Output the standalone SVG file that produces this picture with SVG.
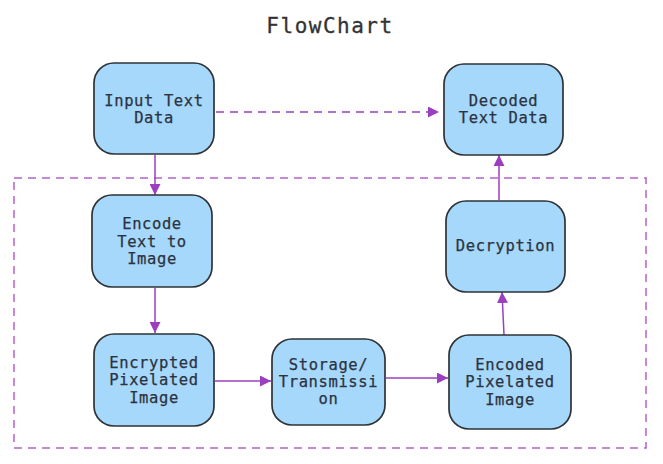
<svg xmlns="http://www.w3.org/2000/svg" width="663" height="464" viewBox="0 0 663 464">
<defs>
<marker id="ah" viewBox="0 0 10 10" refX="10" refY="5" markerWidth="11" markerHeight="11" markerUnits="userSpaceOnUse" orient="auto">
<path d="M0,0 L10,5 L0,10 Z" fill="#9b3fbf"/>
</marker>
<style>
.node rect{fill:#a6d8fb;stroke:#2f3337;stroke-width:1.7}
.node text{font-family:"DejaVu Sans Mono","Liberation Mono",monospace;font-size:15.5px;letter-spacing:0.6px;fill:#2b3340;stroke:#2b3340;stroke-width:0.25;text-anchor:middle}
.edge{stroke:#9b3fbf;stroke-width:1.5;fill:none}
.dash{stroke-dasharray:8,6}
.title{font-family:"DejaVu Sans Mono","Liberation Mono",monospace;font-size:21px;letter-spacing:1.5px;fill:#333;stroke:#333;stroke-width:0.3;text-anchor:middle}
</style>
</defs>
<rect width="663" height="464" fill="#ffffff"/>
<text class="title" x="330" y="33">FlowChart</text>
<rect x="14" y="178" width="632" height="270" fill="none" stroke="#b561c8" stroke-width="1.5" stroke-dasharray="8,6"/>
<g id="connectors">
<path class="edge dash" d="M216,112 L439,112" marker-end="url(#ah)"/>
<path class="edge" d="M155,155 L155,195" marker-end="url(#ah)"/>
<path class="edge" d="M155,288 L155,333" marker-end="url(#ah)"/>
<path class="edge" d="M215,381 L271,381" marker-end="url(#ah)"/>
<path class="edge" d="M386,378 L448,378" marker-end="url(#ah)"/>
<path class="edge" d="M504,335 L502,292" marker-end="url(#ah)"/>
<path class="edge" d="M499,200 L499,155" marker-end="url(#ah)"/>
</g>
<g id="input" class="node">
<rect x="94" y="63" width="120" height="91" rx="20"/>
<text x="154" y="106">Input Text</text>
<text x="154" y="123">Data</text>
</g>
<g id="decoded" class="node">
<rect x="444" y="64" width="119" height="91" rx="20"/>
<text x="503.5" y="106">Decoded</text>
<text x="503.5" y="123">Text Data</text>
</g>
<g id="encode" class="node">
<rect x="92" y="195" width="120" height="92" rx="20"/>
<text x="152" y="229">Encode</text>
<text x="152" y="247">Text to</text>
<text x="152" y="264">Image</text>
</g>
<g id="decryption" class="node">
<rect x="446" y="201" width="119" height="91" rx="20"/>
<text x="505.5" y="251">Decryption</text>
</g>
<g id="encrypted" class="node">
<rect x="94" y="334" width="120" height="92" rx="20"/>
<text x="154" y="368">Encrypted</text>
<text x="154" y="385">Pixelated</text>
<text x="154" y="403">Image</text>
</g>
<g id="storage" class="node">
<rect x="272" y="339" width="113" height="86" rx="20"/>
<text x="328.5" y="370">Storage/</text>
<text x="328.5" y="387">Transmissi</text>
<text x="328.5" y="404">on</text>
</g>
<g id="encoded" class="node">
<rect x="449" y="335" width="122" height="94" rx="20"/>
<text x="510" y="370">Encoded</text>
<text x="510" y="387">Pixelated</text>
<text x="510" y="405">Image</text>
</g>
</svg>
